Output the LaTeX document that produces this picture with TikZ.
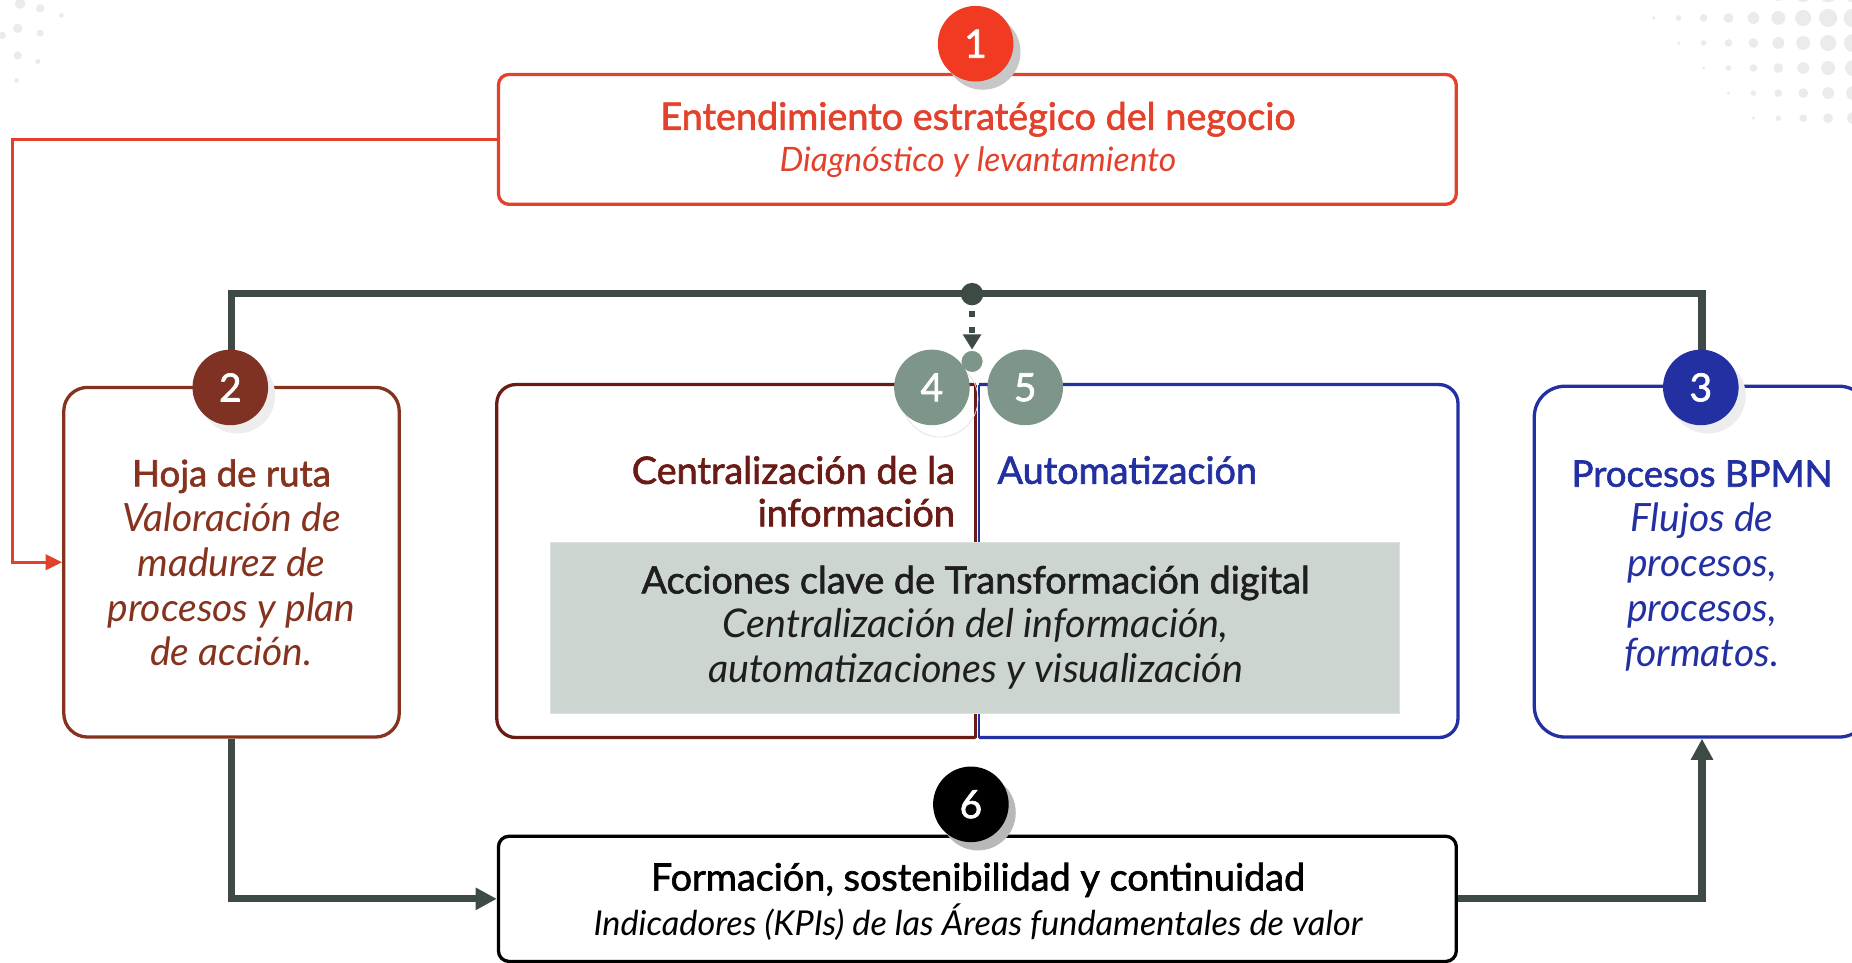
\documentclass[tikz,border=0pt]{standalone}
\usepackage{fontspec}
\setmainfont{Lato}
\newfontfamily\med[FakeBold=1.7]{Lato}
\usetikzlibrary{arrows.meta,calc}
\definecolor{cRed}{HTML}{E2412B}
\definecolor{cRedC}{HTML}{F03A22}
\definecolor{cBrown}{HTML}{85331F}
\definecolor{cBrownC}{HTML}{7F3123}
\definecolor{cBrownD}{HTML}{6A1B15}
\definecolor{cBlue}{HTML}{2230A2}
\definecolor{cSage}{HTML}{7E968A}
\definecolor{cDark}{HTML}{3E4A44}
\definecolor{cGreyBox}{HTML}{CDD5D0}
\definecolor{cDot}{HTML}{EBEBEB}
\definecolor{cText}{HTML}{1E1E1E}
\begin{document}
\begin{tikzpicture}[x=1pt,y=-1pt,
  box/.style={rectangle, line width=2.8pt, inner sep=0pt},
  num/.style={circle, minimum size=64pt, inner sep=0pt, text=white, font=\fontsize{33}{33}\selectfont\med},
  shad/.style={circle, minimum size=64pt, inner sep=0pt, fill=#1},
  darkline/.style={draw=cDark, line width=6pt},
  tip/.style={-{Triangle[length=18pt,width=18pt]}},
  body/.style={align=center, font=\fontsize{33}{38}\selectfont\itshape},
  ]
\clip (0,0) rectangle (1568,815);
% background halftone dots
\foreach \i in {0,...,5}{
 \foreach \j in {0,...,10}{
  \pgfmathsetmacro\xx{1379+21.1*\j}
  \pgfmathsetmacro\yy{-6+21.2*\i}
  \pgfmathsetmacro\rr{min(8,1.5+(\xx-\yy-1385)*0.042)}
  \ifdim\rr pt>0.8pt \fill[cDot] (\xx,\yy) circle (\rr); \fi
 }}
\foreach \px/\py/\pr in {17/3/4.5,34/7/3.5,52/13/2,15/24/4,34/28/3,15/47/3.5,32/52/2.2,14/68/2,2/30/3}{
  \fill[cDot] (\px,\py) circle (\pr);
}
% boxes
\node[box, draw=cRed, rounded corners=9pt, minimum width=811pt, minimum height=110pt] (b1) at (827.5,118) {};
\node[box, draw=cBrown, rounded corners=20pt, minimum width=284pt, minimum height=296pt] (b2) at (196,476) {};
\node[box, draw=cBlue, rounded corners=26pt, minimum width=284pt, minimum height=297pt] (b3) at (1441,475.5) {};
\node[box, rounded corners=16pt, minimum width=811pt, minimum height=296pt] (bc) at (827.5,475) {};
\node[box, draw=black, rounded corners=9pt, minimum width=811pt, minimum height=106pt] (b6) at (827.5,761) {};
% centre box, split outline
\draw[cBrownD, line width=2.8pt, rounded corners=16pt] ($(bc.north)+(-1.5,0)$) -| (bc.west) |- ($(bc.south)+(-1.5,0)$);
\draw[cBlue, line width=2.8pt, rounded corners=16pt] ($(bc.north)+(1.5,0)$) -| (bc.east) |- ($(bc.south)+(1.5,0)$);
\draw[cBrownD, line width=2.6pt] ($(bc.north)+(-1.5,0)$) -- ($(bc.south)+(-1.5,0)$);
\draw[cBlue, line width=2.2pt] ($(bc.north)+(1.4,0)$) -- ($(bc.south)+(1.4,0)$);
\node[rectangle, fill=cGreyBox, draw=cGreyBox!70!white, line width=1pt, minimum width=719pt, minimum height=145pt] (gb) at (825.5,531.5) {};
% connectors
\draw[draw=cRed, line width=2.5pt, -{Triangle[length=14pt,width=13pt]}] (b1.west) -- ++(-410,0) |- (b2.west);
\draw[darkline] (b2.north) -- ++(0,-78) -| (b3.north);
\draw[darkline, tip] (b2.south) |- (b6.west);
\draw[darkline, tip] (b6.east) -| (b3.south);
\coordinate (j) at (823,249);
\node[circle, fill=cSage, draw=white, line width=1pt, minimum size=19pt, inner sep=0pt] (sm) at (823,306) {};
\draw[cDark, line width=4.5pt, dash pattern=on 5pt off 9pt, -{Triangle[length=13pt,width=15pt]}] (j) -- (sm.north);
\fill[cDark] (j) circle (9.5);
% numbered circles
\node[shad=black!22] at (832,44) {};
\node[num, fill=cRedC] (n1) at (826,37) {1};
\node[shad=black!7] at (201,335) {};
\node[num, fill=cBrownC] (n2) at (195,328) {2};
\node[shad=black!7] at (1446,335) {};
\node[num, fill=cBlue] (n3) at (1440,328) {3};
\node[circle, minimum size=64pt, draw=black!12, line width=0.6pt] at (796,338) {};
\node[num, fill=cSage] (n4) at (789,328) {4};
\node[num, fill=cSage] (n5) at (868,328) {5};
\node[shad=black!28] at (828,688) {};
\node[num, fill=black] (n6) at (822,681) {6};
% texts
\node[text=cRed, font=\fontsize{32}{32}\selectfont\med] (t1a) at (828,101) {Entendimiento estratégico del negocio};
\node[text=cRed, font=\fontsize{28.5}{30}\selectfont\itshape] (t1b) at (828,137) {Diagnóstico y levantamiento};
\node[body, text=cBrown] (t2) at (196,476.5) {{\upshape\med\fontsize{31}{38}\selectfont Hoja de ruta}\\Valoración de\\madurez de\\procesos y plan\\de acción.};
\node[body, text=cBlue] (t3) at (1441,479) {{\upshape\med\fontsize{31}{38}\selectfont Procesos BPMN}\\Flujos de\\procesos,\\procesos,\\formatos.};
\node[align=right, anchor=east, text=cBrownD, font=\fontsize{32}{36}\selectfont\med] (t4) at (812,416) {Centralización de la\\información};
\node[anchor=west, text=cBlue, font=\fontsize{32}{34}\selectfont\med] (t5) at (841,398) {Automatización};
\node[align=center, text=cText, font=\fontsize{33.5}{37.5}\selectfont\itshape] (tg) at (826,531) {{\upshape\med\fontsize{32}{37.5}\selectfont Acciones clave de Transformación digital}\\Centralización del información,\\automatizaciones y visualización};
\node[text=black, font=\fontsize{32}{32}\selectfont\med] (t6a) at (828,745) {Formación, sostenibilidad y continuidad};
\node[text=black, font=\fontsize{29}{30}\selectfont\itshape] (t6b) at (828,781) {Indicadores (KPIs) de las Áreas fundamentales de valor};
\end{tikzpicture}
\end{document}
